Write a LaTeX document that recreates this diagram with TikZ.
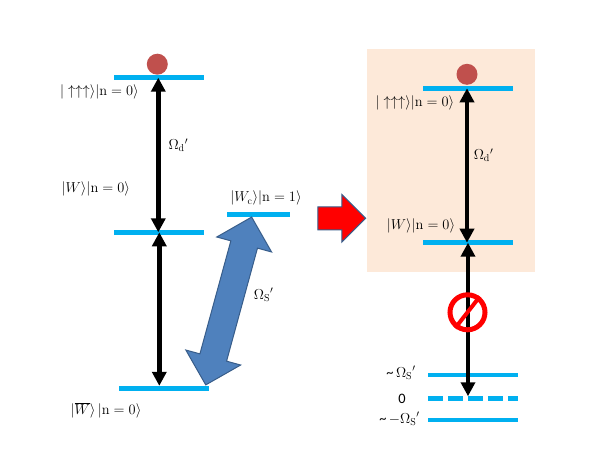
\documentclass[tikz,border=0pt]{standalone}
\usepackage{fontspec}
\newfontfamily\calfont{Carlito}
\usepackage{tikz}
\usetikzlibrary{shapes, arrows, positioning, arrows.meta}
\definecolor{levelblue}{HTML}{00B0F0}
\definecolor{peach}{HTML}{FDE9D9}
\definecolor{ballred}{HTML}{C0504D}
\definecolor{bigblue}{HTML}{4F81BD}
\definecolor{edgeblue}{HTML}{385D8A}
\tikzset{
  level/.style={fill=levelblue, inner sep=0pt, minimum width=90pt, minimum height=4.5pt},
  ball/.style={circle, fill=ballred, inner sep=0pt, minimum size=21pt},
  statelabel/.style={inner sep=0pt, font=\fontsize{14.4}{16}\selectfont},
  trans/.style={{Triangle[length=14pt,width=14pt]}-{Triangle[length=14pt,width=14pt]}, line width=4.5pt},
}
\begin{document}
\begin{tikzpicture}[x=1pt, y=-1pt, on grid]
    \useasboundingbox (0,0) rectangle (600,450);
    \node[fill=peach, inner sep=0pt, minimum width=168pt, minimum height=222.5pt] (box) at (451,160.7) {};

    % left ladder
    \node[level] (topL) at (159.3,77.7) {};
    \node[level, below=154.6pt of topL] (midL) {};
    \node[level, below right=156pt and 4.7pt of midL] (botL) {};
    \node[level, minimum width=63pt, above right=18pt and 99.2pt of midL] (wcL) {};
    \node[ball, above left=13.5pt and 2pt of topL] (ballL) {};
    \draw[trans] ([xshift=-1pt]topL.center) -- ([xshift=-1pt]midL.center);
    \draw[trans] (midL.center) -- (midL.center |- botL.north);
    \node[shape=double arrow, fill=bigblue, draw=edgeblue, line width=1pt, inner xsep=0pt, inner ysep=13.3pt, rotate=74.7,
        minimum height=174pt, double arrow head extend=14.6pt] (bigarrow) at (228.7,301) {};

    \node[statelabel, below left=14.3pt and 59.8pt of topL] (upL) {$|\uparrow\uparrow\uparrow\rangle|\mathrm{n}=0\rangle$};
    \node[statelabel, above left=43pt and 63.5pt of midL] (wL) {$|W\rangle|\mathrm{n}=0\rangle$};
    \node[statelabel, above=16pt of wcL, xshift=7.5pt] (wcLabel) {$|W_{\mathrm{c}}\rangle|\mathrm{n}=1\rangle$};
    \node[statelabel, below left=22pt and 0pt of botL, xshift=-58pt] (barL) {$|\overline{W}\rangle\,|\mathrm{n}=0\rangle$};
    \node[statelabel, above right=87pt and 19pt of midL] (omdL) {$\Omega_{\mathrm{d}}{}'$};
    \node[statelabel, right=35pt of bigarrow, yshift=6pt] (omsL) {$\Omega_{\mathrm{S}}{}'$};

    % red arrow
    \node[shape=single arrow, fill=red, draw=edgeblue, line width=1pt, inner xsep=0pt, inner ysep=11pt,
        minimum height=47.7pt, single arrow head extend=12.3pt] (redarrow) at (336,218.3) {};

    % right ladder
    \node[level] (topR) at (468,88.3) {};
    \node[level, below=154.4pt of topR] (midR) {};
    \node[level] (upR) at (473,375) {};
    \node[inner sep=0pt, minimum width=90pt, minimum height=4.5pt, below=23.7pt of upR] (zeroR) {};
    \node[level, below=45pt of upR] (lowR) {};
    \draw[levelblue, line width=4.5pt, dash pattern=on 15pt off 5pt] (zeroR.west) -- (zeroR.east);
    \node[ball, above left=14pt and 1pt of topR] (ballR) {};
    \draw[trans] ([xshift=-1pt]topR.center) -- ([xshift=-1pt]midR.center);
    \draw[trans] (midR.center) -- (midR.center |- zeroR.north);

    % blocked transition
    \node[circle, draw=red, line width=5pt, inner sep=0pt, minimum size=35pt] (noway) at (467.5,312.3) {};
    \draw[red, line width=4pt] (noway.52) -- (noway.232);

    \node[statelabel, below left=14.7pt and 53pt of topR] (upRl) {$|\uparrow\uparrow\uparrow\rangle|\mathrm{n}=0\rangle$};
    \node[statelabel, above left=16.7pt and 47pt of midR] (wR) {$|W\rangle|\mathrm{n}=0\rangle$};
    \node[statelabel, above right=87.7pt and 15.5pt of midR] (omdR) {$\Omega_{\mathrm{d}}{}'$};
    \node[statelabel, left=72pt of upR, yshift=2pt] (plusR) {{\calfont\textasciitilde}\,$\Omega_{\mathrm{S}}{}'$};
    \node[statelabel, left=71pt of zeroR] (zeroLabel) {\calfont 0};
    \node[statelabel, left=73.5pt of lowR, yshift=1pt] (minusR) {{\calfont\textasciitilde}\,$-\Omega_{\mathrm{S}}{}'$};
\end{tikzpicture}
\end{document}
